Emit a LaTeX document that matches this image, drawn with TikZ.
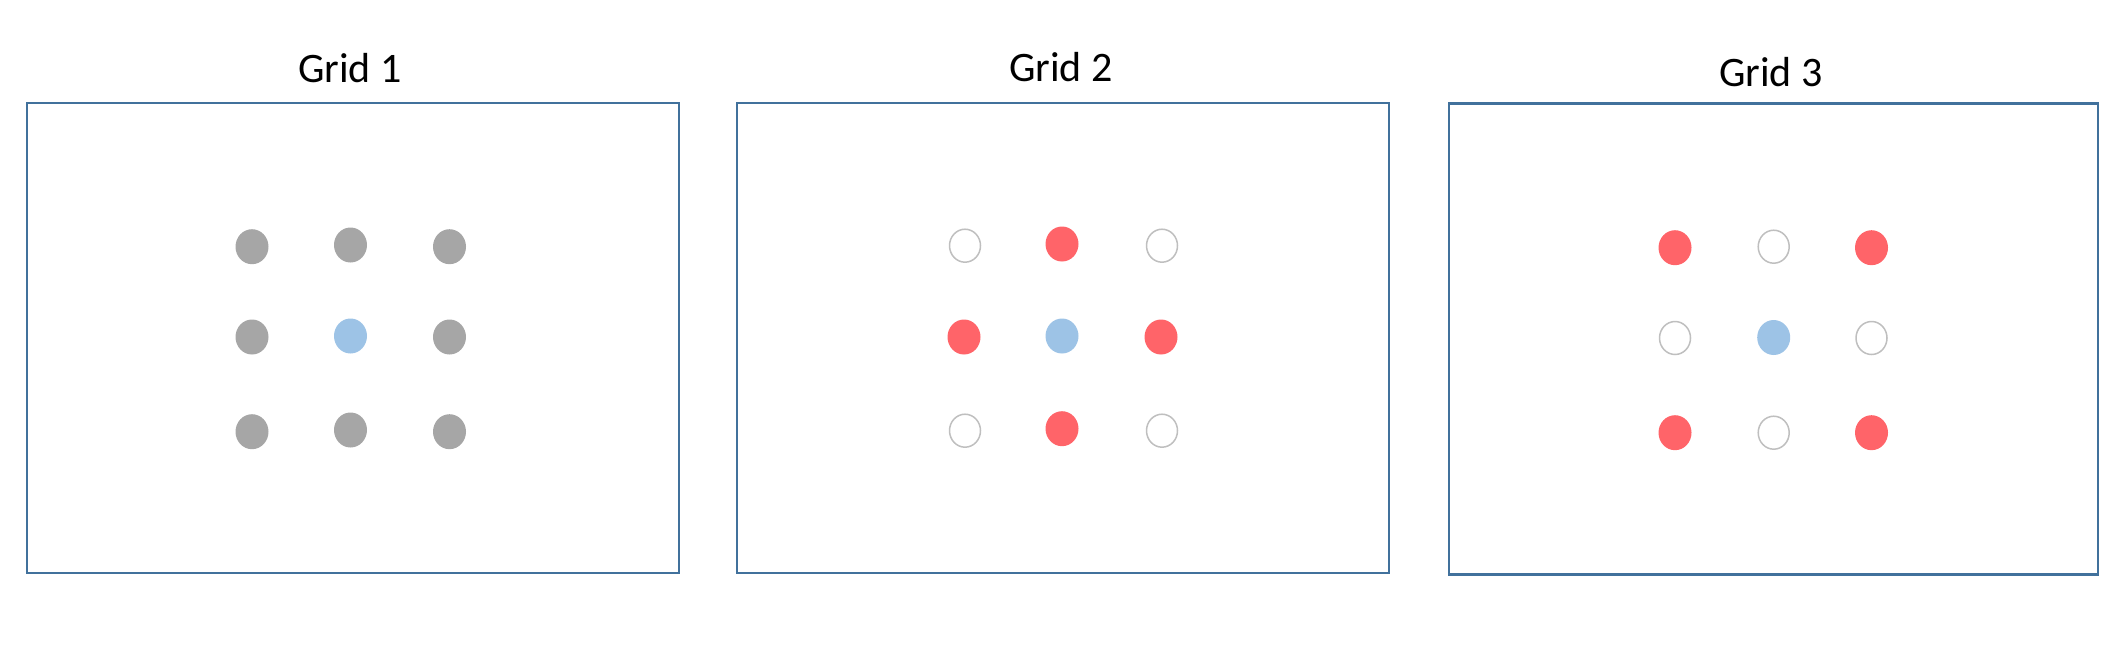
\documentclass[tikz,border=0pt]{standalone}
\usepackage{fontspec}
\setmainfont{Carlito}
\usetikzlibrary{shapes.geometric}
\definecolor{boxblue}{HTML}{41719C}
\definecolor{dotgray}{HTML}{A6A6A6}
\definecolor{dotblue}{HTML}{9DC3E6}
\definecolor{dotred}{HTML}{FF6469}
\definecolor{ringgray}{HTML}{BFBFBF}
\begin{document}
\begin{tikzpicture}[x=1pt,y=-1pt,
  frame/.style={draw=boxblue,line width=1.6pt,rectangle,inner sep=0pt},
  title/.style={font=\fontsize{42}{50}\selectfont,inner sep=0pt,anchor=center},
  dotbase/.style={ellipse,inner sep=0pt,minimum width=33pt,minimum height=35pt},
  gdot/.style={dotbase,fill=dotgray},
  bdot/.style={dotbase,fill=dotblue},
  rdot/.style={dotbase,fill=dotred},
  odot/.style={ellipse,inner sep=0pt,minimum width=31pt,minimum height=33pt,draw=ringgray,line width=1.5pt,fill=white}]
\useasboundingbox (0,0) rectangle (2120,664);
% frames
\node[frame,minimum width=652pt,minimum height=470pt] (f1) at (353,338) {};
\node[frame,minimum width=652pt,minimum height=470pt] (f2) at (1063,338) {};
\node[frame,minimum width=649pt,minimum height=470pt] (f3) at (1773.5,339) {};
\draw[boxblue,line width=3pt] (f3.north west) -- (f3.north east);
\draw[boxblue,line width=3pt] (f3.south west) -- (f3.south east);
% titles
\node[title] (t1) at (350,68) {Grid 1};
\node[title] (t2) at (1061,67) {Grid 2};
\node[title] (t3) at (1771,72) {Grid 3};
% grid 1
\node[gdot] (a11) at (252,246.7) {};
\node[gdot] (a12) at (350.5,245) {};
\node[gdot] (a13) at (449.5,246.7) {};
\node[gdot] (a21) at (252,337) {};
\node[bdot] (a22) at (350.5,336) {};
\node[gdot] (a23) at (449.5,337) {};
\node[gdot] (a31) at (252,431.7) {};
\node[gdot] (a32) at (350.5,430) {};
\node[gdot] (a33) at (449.5,431.7) {};
% grid 2
\node[odot] (b11) at (965,245.7) {};
\node[rdot] (b12) at (1062,244) {};
\node[odot] (b13) at (1162,245.7) {};
\node[rdot] (b21) at (964,337) {};
\node[bdot] (b22) at (1062,336) {};
\node[rdot] (b23) at (1161,337) {};
\node[odot] (b31) at (965,430.7) {};
\node[rdot] (b32) at (1062,428.7) {};
\node[odot] (b33) at (1162,430.7) {};
% grid 3
\node[rdot] (c11) at (1675,247.7) {};
\node[odot] (c12) at (1773.7,246.7) {};
\node[rdot] (c13) at (1871.5,247.7) {};
\node[odot] (c21) at (1675,338) {};
\node[bdot] (c22) at (1773.7,337.5) {};
\node[odot] (c23) at (1871.5,338) {};
\node[rdot] (c31) at (1675,432.7) {};
\node[odot] (c32) at (1773.7,432.7) {};
\node[rdot] (c33) at (1871.5,432.7) {};
\end{tikzpicture}
\end{document}
